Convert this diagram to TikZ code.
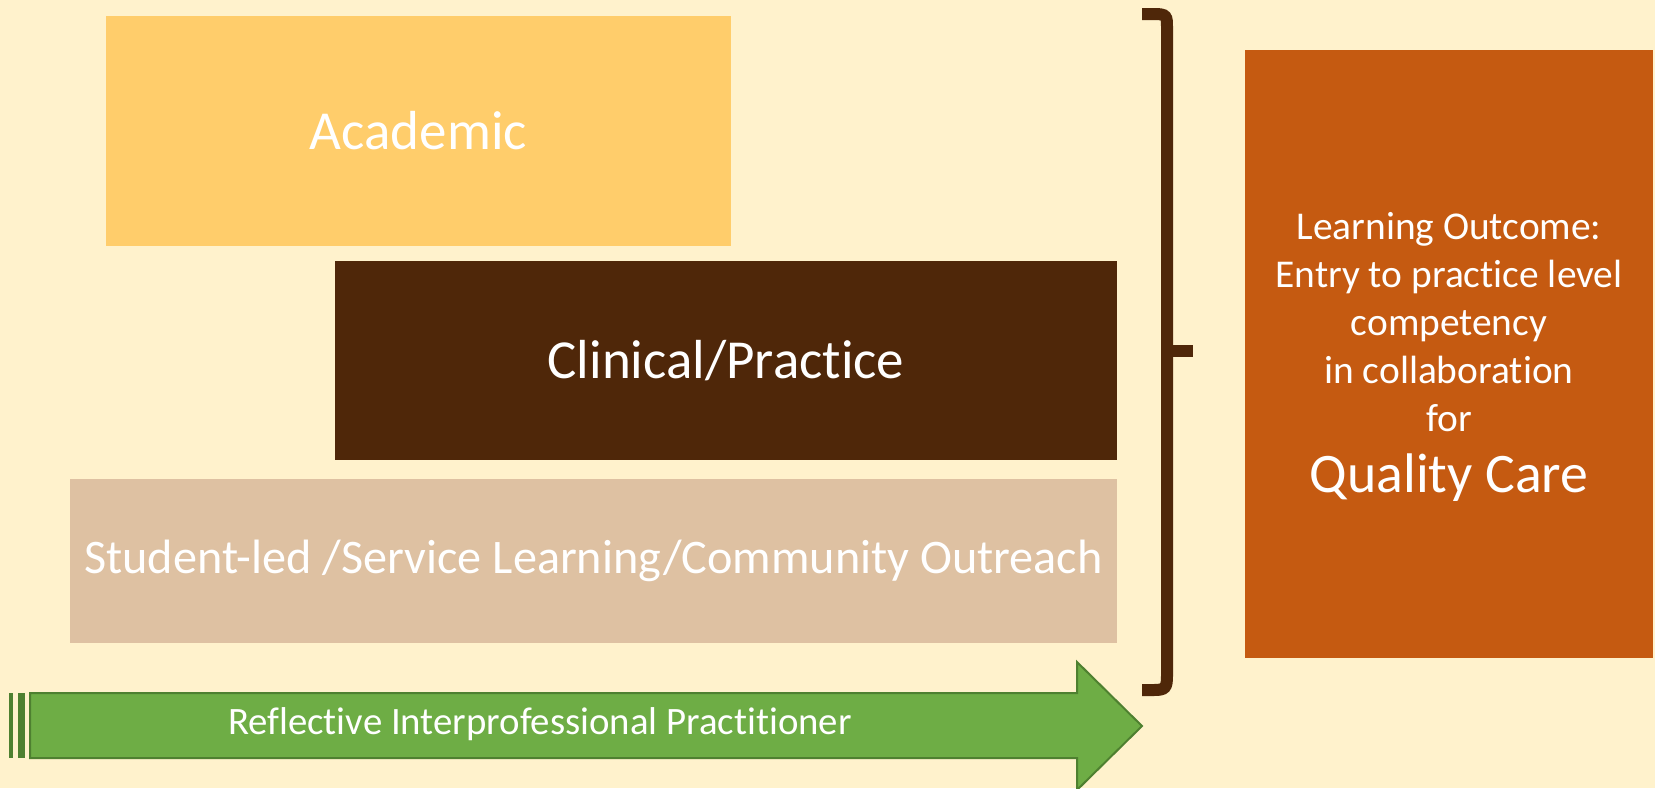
\documentclass[tikz,border=0pt]{standalone}
\usepackage{fontspec}
\setmainfont{Carlito}[Ligatures=CommonOff]
\usetikzlibrary{positioning}

\definecolor{bgcream}{HTML}{FFF2CC}
\definecolor{academicgold}{HTML}{FFCD6B}
\definecolor{clinicalbrown}{HTML}{4F2709}
\definecolor{studenttan}{HTML}{DEC1A2}
\definecolor{outcomeorange}{HTML}{C55A11}
\definecolor{arrowgreen}{HTML}{6EAD45}
\definecolor{arrowedge}{HTML}{4E8030}

\tikzset{
  block/.style={inner sep=0pt, text=white, anchor=center},
  brace line/.style={draw=clinicalbrown, line width=6pt},
}

\begin{document}
\begin{tikzpicture}[x=0.5pt,y=-0.5pt]
		\fill[bgcream] (0,0) rectangle (1655,788);
		\useasboundingbox (0,0) rectangle (1655,788);

		% the three layers
		\node[block, fill=academicgold, minimum width=312.5pt, minimum height=115pt,
			font=\fontsize{27.5}{33}\selectfont] (academic) at (418.5,131) {Academic};
		\node[block, fill=clinicalbrown, minimum width=391pt, minimum height=99.5pt,
			font=\fontsize{27.5}{33}\selectfont] (clinical) at (726,360.5) {Clinical/Practice};
		\node[block, fill=studenttan, minimum width=523.5pt, minimum height=82pt,
			font=\fontsize{24.1}{29}\selectfont] (student) at (593.5,561) {Student-led /Service Learning/Community Outreach};

		% arrow along the bottom
		\fill[arrowedge] (9,693) rectangle (13,758);
		\fill[arrowedge] (18,693) rectangle (25,758);
		\fill[arrowgreen, draw=arrowedge, line width=1pt]
			(30,693) -- (1077,693) -- (1077,662) -- (1142,726) -- (1077,790) -- (1077,758) -- (30,758) -- cycle;
		\node[block, font=\fontsize{19.4}{23}\selectfont] (reflective) at (540,724) {Reflective Interprofessional Practitioner};

		% bracket
		\coordinate (bracetop) at (1142,14);
		\coordinate (bracebot) at (1142,690);
		\coordinate (bracemid) at (1167,351);
		\draw[brace line] (bracetop) -- (1154,14) .. controls (1167,14) and (1167,16) .. (1167,28)
			-- (1167,676) .. controls (1167,688) and (1165,690) .. (1154,690) -- (bracebot);
		\draw[brace line] (bracemid) -- (1193,351);

		% outcome box
		\node[block, fill=outcomeorange, minimum width=204pt, minimum height=304pt] (outcome) at (1449,354) {};
		\node[block, align=center, font=\fontsize{19.7}{24}\selectfont] (outtext) at (1449,322.5)
			{Learning Outcome:\\Entry to practice level\\competency\\in collaboration\\for};
		\node[block, font=\fontsize{27.9}{33}\selectfont] (quality) at (1449,478) {Quality Care};
	\end{tikzpicture}
\end{document}
